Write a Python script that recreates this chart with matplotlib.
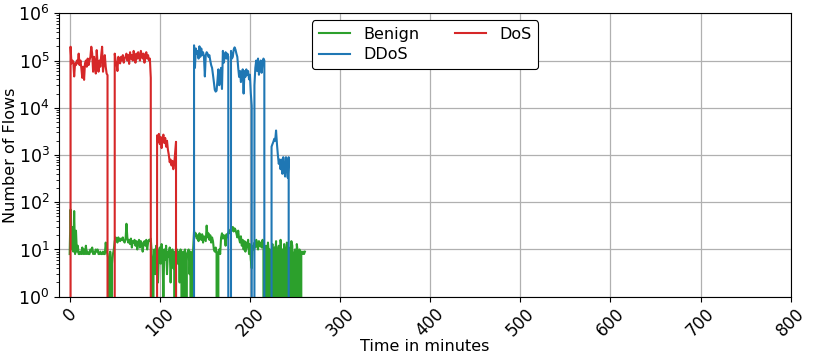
"""
Flow counts per minute for benign, DDoS and DoS traffic.
"""

import matplotlib

matplotlib.use("Agg")
import matplotlib.pyplot as plt
import numpy as np

# Benign flows, one value per minute starting at minute 0
benign_start = 0
benign_flows = [
    8, 70, 10, 30, 9, 65, 8, 25, 9, 12,
    8, 8, 9, 8, 11, 8, 10, 8, 12, 8,
    9, 8, 8, 10, 9, 11, 8, 9, 8, 10,
    9, 10, 8, 8, 9, 8, 8, 9, 8, 8,
    14, 9, 8, 6, 0, 9, 0, 5, 8, 10,
    15, 18, 17, 14, 18, 16, 15, 17, 16, 18,
    15, 14, 16, 35, 18, 14, 16, 13, 17, 11,
    15, 14, 16, 12, 15, 10, 14, 16, 11, 15,
    13, 9, 14, 15, 12, 16, 10, 14, 16, 15,
    17, 9, 0, 6, 10, 3, 12, 7, 2, 9,
    11, 5, 13, 8, 1, 10, 6, 12, 3, 9,
    7, 11, 2, 8, 10, 4, 9, 0, 8, 10,
    5, 9, 2, 10, 8, 0, 9, 7, 10, 0,
    8, 9, 10, 3, 9, 0, 8, 10, 25, 19,
    22, 17, 20, 15, 22, 18, 16, 21, 14, 19,
    17, 15, 32, 18, 22, 16, 20, 14, 18, 15,
    10, 9, 11, 8, 0, 9, 10, 8, 18, 22,
    17, 20, 19, 12, 21, 18, 23, 22, 26, 27,
    25, 30, 24, 28, 26, 22, 18, 25, 17, 14,
    19, 12, 16, 10, 15, 9, 14, 11, 16, 8,
    13, 6, 4, 12, 10, 14, 11, 16, 13, 10,
    15, 12, 14, 11, 16, 13, 0, 9, 12, 0,
    14, 8, 10, 0, 9, 13, 0, 11, 8, 15,
    0, 9, 12, 0, 16, 7, 10, 0, 13, 9,
    0, 14, 8, 11, 0, 9, 15, 12, 0, 8,
    10, 0, 13, 9, 0, 10, 0, 9, 8, 9,
    8, 9,
]

# DDoS flows, one value per minute starting at minute 136
ddos_start = 136
ddos_flows = [
    0, 0, 2.1e5, 7e4, 1.8e5, 1.4e5, 1.6e5, 1.1e5, 2.0e5, 1.2e5,
    1.8e5, 1.3e5, 1.5e5, 1.2e5, 4.6e4, 1.3e5, 1.5e5, 1.4e5, 1.2e5, 1.3e5,
    1.0e5, 8e4, 7e4, 5e4, 3.5e4, 2.4e4, 2.2e4, 2.3e4, 3.8e4, 6.5e4,
    3e4, 5e4, 7e4, 2.5e4, 1.6e5, 9e4, 1.2e5, 1.5e5, 1.1e5, 1.4e5,
    1.2e5, 0, 0, 1.6e5, 1.1e5, 1.2e5, 1.7e5, 1.9e5, 1.7e5, 1.4e5,
    1.2e5, 7e4, 4.5e4, 6e4, 3.5e4, 5e4, 6.5e4, 2e4, 6e4, 4.5e4,
    6.5e4, 5e4, 6e4, 4e4, 5e4, 2e4, 1.1e4, 0, 0, 3e4,
    7e4, 1.0e5, 6e4, 1.1e5, 5e4, 8e4, 1.0e5, 5.5e4, 9e4, 1.1e5,
    1.0e5, 0, 0, 0, 0, 0, 0, 0, 1.5e3, 1.7e3,
    1.9e3, 2.2e3, 2.0e3, 3.3e3, 1.7e3, 1.0e3, 6.5e2, 8e2, 5e2, 8e2,
    4e2, 9e2, 5e2, 3.5e2, 9e2, 6e2, 3.3e2, 9e2, 0, 0,
]

# DoS flows, one value per minute starting at minute 0
dos_start = 0
dos_flows = [
    0, 1.96e5, 8.7e4, 1.0e5, 9.5e4, 4.6e4, 8.7e4, 8.0e4, 1.0e5, 8.7e4,
    1.4e5, 8.0e4, 1.0e5, 6.8e4, 4.3e4, 7.4e4, 3.9e4, 8.7e4, 1.0e5, 7.4e4,
    1.1e5, 8.0e4, 1.0e5, 1.2e5, 1.96e5, 1.4e5, 5.8e4, 1.2e5, 8.7e4, 5.3e4,
    1.66e5, 8.7e4, 5.8e4, 1.0e5, 7.4e4, 1.3e5, 1.96e5, 5.8e4, 8.7e4, 1.3e5,
    7.4e4, 5.3e4, 4.9e4, 0, 0, 0, 0, 0, 0, 0,
    1.4e5, 1.0e5, 8.7e4, 6e4, 1.2e5, 1.0e5, 8.7e4, 1.2e5, 1.0e5, 1.3e5,
    9e4, 1.1e5, 1.2e5, 1.4e5, 1.0e5, 1.3e5, 8.5e4, 1.5e5, 1.1e5, 1.3e5,
    1.0e5, 1.6e5, 1.2e5, 9e4, 1.4e5, 1.1e5, 1.5e5, 1.2e5, 1.0e5, 1.6e5,
    1.3e5, 1.1e5, 1.4e5, 9e4, 1.2e5, 1.5e5, 1.1e5, 1.3e5, 1.0e5, 1.1e5,
    4.3e4, 0, 0, 0, 0, 0, 0, 2.6e3, 1.9e3, 2.8e3,
    1.7e3, 2.4e3, 1.4e3, 2.2e3, 2.7e3, 1.8e3, 2.3e3, 1.5e3, 2.0e3, 1.3e3,
    1.0e3, 7e2, 8e2, 6e2, 7.5e2, 5e2, 6.5e2, 1.1e3, 1.9e3, 0,
    0,
]

x_ticks = [0, 100, 200, 300, 400, 500, 600, 700, 800]

series = [
    ("Benign", benign_start, benign_flows, "tab:green"),
    ("DDoS", ddos_start, ddos_flows, "tab:blue"),
    ("DoS", dos_start, dos_flows, "tab:red"),
]

fig = plt.figure(figsize=(8.14, 3.61), dpi=100)
ax = fig.add_axes([59.3 / 814, 1 - 296.7 / 361, 731.4 / 814, 283.4 / 361])

for label, start, flows, color in series:
    minutes = start + np.arange(len(flows))
    ax.plot(minutes, flows, color=color, label=label, linewidth=1.5)

ax.set_yscale("log")
ax.set_ylim(1, 1e6)
ax.set_xlim(-11.5, 800)
ax.set_xticks(x_ticks)
ax.tick_params(axis="x", labelrotation=45, labelsize=12, pad=2)
ax.tick_params(axis="y", labelsize=12.5)
ax.grid(True, which="major", color="#b0b0b0", linewidth=0.9)
ax.set_xlabel("Time in minutes", fontsize=11.5, labelpad=0)
ax.set_ylabel("Number of Flows", fontsize=11.5, labelpad=0)
legend = ax.legend(loc="upper center", ncol=2, fontsize=11.5, framealpha=1,
                   edgecolor="black", columnspacing=2.2, labelspacing=0.35,
                   borderaxespad=0.45)
legend.get_frame().set_linewidth(0.8)

fig.savefig("out.png", dpi=100)
